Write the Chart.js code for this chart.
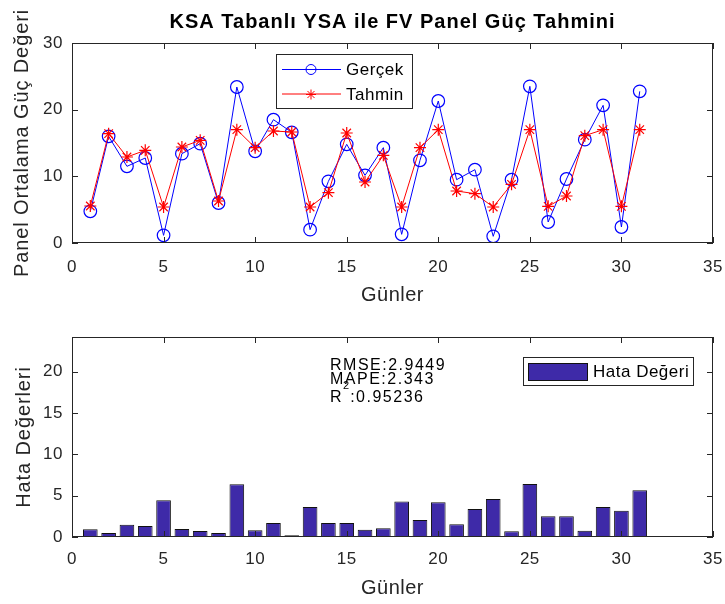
<!DOCTYPE html>
<html lang="tr">
<head>
<meta charset="utf-8">
<title>KSA Tabanlı YSA ile FV Panel Güç Tahmini</title>
<script src="https://cdn.jsdelivr.net/npm/chart.js@4.4.1/dist/chart.umd.min.js"></script>
<style>
  body { margin: 0; background: #fff; }
  #sekil { position: relative; width: 725px; height: 604px; overflow: hidden; }
  #sekil canvas { position: absolute; left: 0; }
</style>
</head>
<body>
<div id="sekil">
  <canvas id="tahminGrafik" width="725" height="310" style="top:0"></canvas>
  <canvas id="hataGrafik" width="725" height="304" style="top:300px"></canvas>
</div>
<script>
// Günlük ölçülen ve tahmin edilen panel gücü
var gunler = [1, 2, 3, 4, 5, 6, 7, 8, 9, 10, 11, 12, 13, 14, 15, 16, 17, 18, 19, 20, 21, 22, 23, 24, 25, 26, 27, 28, 29, 30, 31];
var gercek = [4.75, 16.0, 11.5, 12.75, 1.15, 13.4, 14.9, 6.0, 23.4, 13.75, 18.5, 16.6, 2.0, 9.25, 14.8, 10.15,
              14.3, 1.3, 12.4, 21.3, 9.5, 11.0, 1.0, 9.5, 23.5, 3.15, 9.6, 15.5, 20.65, 2.4, 22.75];
var tahmin = [5.55, 16.4, 12.9, 13.9, 5.4, 14.4, 15.4, 6.3, 17.0, 14.3, 16.8, 16.65, 5.4, 7.55, 16.5, 9.15,
              13.15, 5.4, 14.3, 17.0, 7.8, 7.4, 5.4, 8.8, 17.0, 5.5, 7.05, 16.1, 17.0, 5.5, 17.0];
// Hata değerleri (mutlak fark)
var hata = [0.93, 0.48, 1.49, 1.33, 4.44, 0.97, 0.73, 0.48, 6.37, 0.81, 1.69, 0.2, 3.63, 1.69, 1.69, 0.89,
            1.05, 4.31, 2.06, 4.19, 1.53, 3.39, 4.6, 0.69, 6.41, 2.5, 2.5, 0.77, 3.63, 3.19, 5.65];

var xTikleri = [0, 5, 10, 15, 20, 25, 30, 35];
var ustYTikleri = [0, 10, 20, 30];
var altYTikleri = [0, 5, 10, 15, 20];
var rmse = '2.9449';
var mape = '2.343';
var r2 = '0.95236';

var YAZI = "'Liberation Sans', Arial, Helvetica, sans-serif";
var EKSEN_RENK = '#262626';
var BAR_RENK = '#3e2aa8';

function noktalar(degerler) {
    return gunler.map(function(g, i) { return { x: g, y: degerler[i] }; });
}

function tikAyarla(liste) {
    return function(scale) {
        scale.ticks = liste.map(function(v) { return { value: v }; });
    };
}

// Ortak eksen ayarları
function xEkseni(tikBosluk, baslikBosluk) {
    return {
        type: 'linear', min: 0, max: 35, offset: false,
        afterBuildTicks: tikAyarla(xTikleri),
        afterFit: function(s) { s.height = 67; s.paddingLeft = 0; s.paddingRight = 0; },
        grid: { display: false, drawTicks: false },
        border: { display: false },
        ticks: { padding: tikBosluk, color: EKSEN_RENK, maxRotation: 0, autoSkip: false,
                 font: { family: YAZI, size: 17 } },
        title: { display: true, text: 'Günler', color: EKSEN_RENK,
                 font: { family: YAZI, size: 20, lineHeight: 1.2 },
                 padding: { top: 0, bottom: baslikBosluk } }
    };
}

function yEkseni(maks, liste) {
    return {
        min: 0, max: maks,
        afterBuildTicks: tikAyarla(liste),
        afterFit: function(s) { s.width = 72; s.paddingTop = 0; s.paddingBottom = 0; },
        grid: { display: false, drawTicks: false },
        border: { display: false },
        ticks: { padding: 9, color: EKSEN_RENK, font: { family: YAZI, size: 17 } }
    };
}

// Kutu çerçeve ve içe dönük tik çizgileri
var kutuEksen = {
    id: 'kutuEksen',
    beforeDraw: function(chart) {
        chart.ctx.letterSpacing = '0.5px';
    },
    afterDraw: function(chart) {
        var ctx = chart.ctx, a = chart.chartArea;
        var sx = chart.scales.x, sy = chart.scales.y;
        ctx.save();
        ctx.strokeStyle = EKSEN_RENK;
        ctx.lineWidth = 1;
        ctx.beginPath();
        sx.ticks.forEach(function(t) {
            var px = Math.round(sx.getPixelForValue(t.value)) + 0.5;
            ctx.moveTo(px, a.bottom); ctx.lineTo(px, a.bottom - 6);
            ctx.moveTo(px, a.top); ctx.lineTo(px, a.top + 6);
        });
        sy.ticks.forEach(function(t) {
            var py = Math.round(sy.getPixelForValue(t.value)) + 0.5;
            ctx.moveTo(a.left, py); ctx.lineTo(a.left + 6, py);
            ctx.moveTo(a.right, py); ctx.lineTo(a.right - 6, py);
        });
        ctx.stroke();
        ctx.strokeRect(Math.round(a.left) + 0.5, Math.round(a.top) + 0.5,
                       Math.round(a.right - a.left) - 1, Math.round(a.bottom - a.top) - 1);
        ctx.restore();
    }
};

function dikeyBaslik(ctx, metin, x, y) {
    ctx.save();
    ctx.translate(x, y);
    ctx.rotate(-Math.PI / 2);
    ctx.font = '20px ' + YAZI;
    ctx.letterSpacing = '0.9px';
    ctx.fillStyle = EKSEN_RENK;
    ctx.textAlign = 'center';
    ctx.textBaseline = 'middle';
    ctx.fillText(metin, 0, 0);
    ctx.restore();
}

function yazi(ctx, metin, x, y, boyut) {
    ctx.font = boyut + 'px ' + YAZI;
    ctx.fillStyle = '#000';
    ctx.textAlign = 'left';
    ctx.textBaseline = 'middle';
    ctx.fillText(metin, x, y);
}

// Üst grafik: başlık, y ekseni adı ve lejant
var ustSusleme = {
    id: 'ustSusleme',
    afterDraw: function(chart) {
        var ctx = chart.ctx, a = chart.chartArea;
        ctx.save();
        ctx.font = 'bold 20px ' + YAZI;
        ctx.letterSpacing = '1px';
        ctx.fillStyle = '#000';
        ctx.textAlign = 'center';
        ctx.textBaseline = 'middle';
        ctx.fillText('KSA Tabanlı YSA ile FV Panel Güç Tahmini', (a.left + a.right) / 2, 22);
        ctx.restore();

        dikeyBaslik(ctx, 'Panel Ortalama Güç Değeri', 22, (a.top + a.bottom) / 2);

        ctx.save();
        ctx.letterSpacing = '0.5px';
        ctx.fillStyle = '#fff';
        ctx.fillRect(276, 54, 137, 55);
        ctx.strokeStyle = EKSEN_RENK;
        ctx.lineWidth = 1;
        ctx.strokeRect(276.5, 54.5, 136, 54);

        ctx.beginPath();
        ctx.strokeStyle = '#0000ff';
        ctx.moveTo(282, 69.5); ctx.lineTo(341, 69.5);
        ctx.stroke();
        ctx.fillStyle = 'rgba(0,0,0,0)';
        ctx.strokeStyle = '#0000ff';
        Chart.helpers.drawPoint(ctx, { pointStyle: 'circle', radius: 5, borderWidth: 1.2 }, 311, 69.5);
        yazi(ctx, 'Gerçek', 346, 70, 17);

        ctx.beginPath();
        ctx.strokeStyle = '#ff0000';
        ctx.moveTo(282, 94); ctx.lineTo(341, 94);
        ctx.stroke();
        ctx.strokeStyle = '#ff0000';
        Chart.helpers.drawPoint(ctx, { pointStyle: 'star', radius: 5, borderWidth: 1.2 }, 311, 94.5);
        yazi(ctx, 'Tahmin', 346, 95, 17);
        ctx.restore();
    }
};

// Alt grafik: y ekseni adı, istatistikler ve lejant
var altSusleme = {
    id: 'altSusleme',
    afterDraw: function(chart) {
        var ctx = chart.ctx, a = chart.chartArea;
        dikeyBaslik(ctx, 'Hata Değerleri', 24, (a.top + a.bottom) / 2);

        ctx.save();
        ctx.letterSpacing = '1.5px';
        yazi(ctx, 'RMSE:' + rmse, 330, 66, 16);
        yazi(ctx, 'MAPE:' + mape, 330, 80, 16);
        yazi(ctx, 'R', 330, 98, 16);
        var rG = ctx.measureText('R').width;
        ctx.letterSpacing = '0px';
        yazi(ctx, '2', 330 + rG, 86, 11);
        var ikiG = ctx.measureText('2').width;
        ctx.letterSpacing = '1.5px';
        yazi(ctx, ':' + r2, 330 + rG + ikiG + 1, 98, 16);
        ctx.restore();

        ctx.save();
        ctx.letterSpacing = '0.5px';
        ctx.fillStyle = '#fff';
        ctx.fillRect(523, 57, 171, 29);
        ctx.strokeStyle = EKSEN_RENK;
        ctx.lineWidth = 1;
        ctx.strokeRect(523.5, 57.5, 170, 28);
        ctx.fillStyle = BAR_RENK;
        ctx.fillRect(528, 63, 60, 18);
        ctx.strokeStyle = '#111';
        ctx.strokeRect(528.5, 63.5, 59, 17);
        yazi(ctx, 'Hata Değeri', 593, 72, 17);
        ctx.restore();
    }
};

new Chart(document.getElementById('tahminGrafik'), {
    type: 'line',
    data: {
        datasets: [{
            label: 'Gerçek',
            data: noktalar(gercek),
            borderColor: '#0000ff',
            borderWidth: 1,
            pointStyle: 'circle',
            pointRadius: 6.3,
            pointBorderWidth: 1.2,
            pointBorderColor: '#0000ff',
            pointBackgroundColor: 'rgba(0,0,0,0)',
            tension: 0,
            order: 1
        }, {
            label: 'Tahmin',
            data: noktalar(tahmin),
            borderColor: '#ff0000',
            borderWidth: 1,
            pointStyle: 'star',
            pointRadius: 6,
            pointBorderWidth: 1.2,
            pointBorderColor: '#ff0000',
            tension: 0,
            order: 0
        }]
    },
    options: {
        responsive: false,
        animation: false,
        devicePixelRatio: 1,
        events: [],
        layout: { padding: { top: 43, right: 12, left: 0, bottom: 0 } },
        plugins: { legend: { display: false }, tooltip: { enabled: false } },
        scales: {
            x: xEkseni(14, 3),
            y: yEkseni(30, ustYTikleri)
        }
    },
    plugins: [kutuEksen, ustSusleme]
});

new Chart(document.getElementById('hataGrafik'), {
    type: 'bar',
    data: {
        datasets: [{
            label: 'Hata Değeri',
            data: noktalar(hata),
            backgroundColor: BAR_RENK,
            borderColor: '#111',
            borderWidth: 1,
            barPercentage: 0.8,
            categoryPercentage: 1
        }]
    },
    options: {
        responsive: false,
        animation: false,
        devicePixelRatio: 1,
        events: [],
        layout: { padding: { top: 37, right: 12, left: 0, bottom: 0 } },
        plugins: { legend: { display: false }, tooltip: { enabled: false } },
        scales: {
            x: xEkseni(12, 4),
            y: yEkseni(24.2, altYTikleri)
        }
    },
    plugins: [kutuEksen, altSusleme]
});
</script>
</body>
</html>
